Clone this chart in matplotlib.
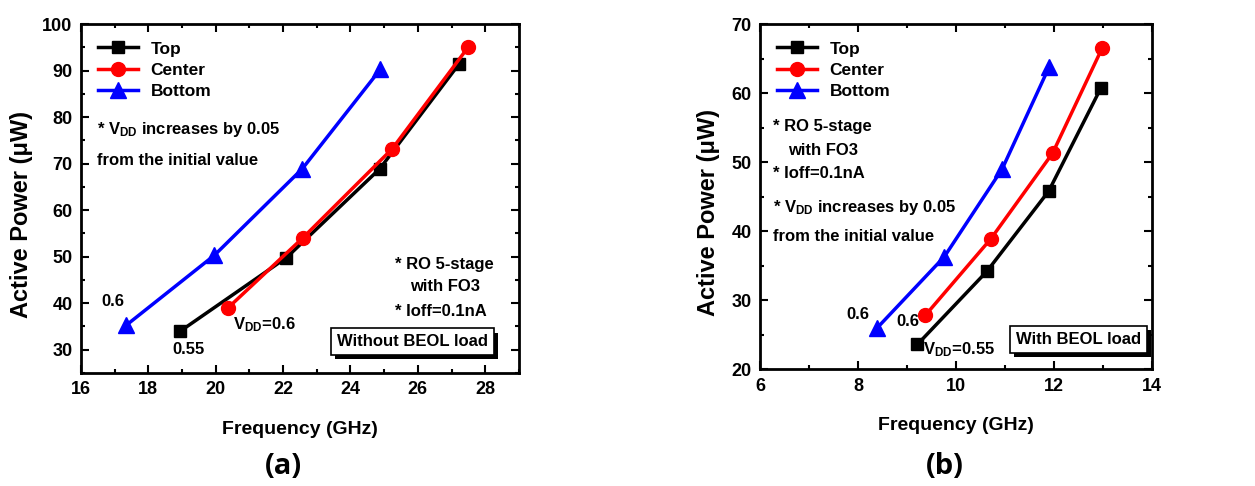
import numpy as np
import matplotlib
matplotlib.use("Agg")
import matplotlib.pyplot as plt
import matplotlib.patheffects as pe
from matplotlib.ticker import MultipleLocator

plt.rcParams['font.family'] = ['Liberation Sans', 'DejaVu Sans']
plt.rcParams['font.weight'] = 'bold'
plt.rcParams['mathtext.fontset'] = 'custom'
plt.rcParams['mathtext.rm'] = 'Liberation Sans:bold'
plt.rcParams['mathtext.bf'] = 'Liberation Sans:bold'

# (a) without BEOL load
freq_top_a = [18.95, 22.1, 24.87, 27.22]
pow_top_a = [34.0, 49.8, 68.9, 91.4]
freq_center_a = [20.35, 22.58, 25.24, 27.49]
pow_center_a = [38.9, 54.0, 73.2, 95.0]
freq_bottom_a = [17.35, 19.96, 22.57, 24.89]
pow_bottom_a = [35.3, 50.3, 68.9, 90.3]

# (b) with BEOL load
freq_top_b = [9.21, 10.63, 11.89, 12.96]
pow_top_b = [23.6, 34.2, 45.8, 60.8]
freq_center_b = [9.37, 10.71, 11.97, 12.98]
pow_center_b = [27.8, 38.9, 51.3, 66.5]
freq_bottom_b = [8.39, 9.76, 10.94, 11.9]
pow_bottom_b = [26.0, 36.3, 49.0, 63.8]

labels = ['Top', 'Center', 'Bottom']
styles = [('black', 's', 9), ('red', 'o', 10), ('blue', '^', 11)]

fig = plt.figure(figsize=(12.55, 4.86), dpi=100)
ax_a = fig.add_axes([0.0645, 0.2325, 0.349, 0.718])
ax_b = fig.add_axes([0.6056, 0.240, 0.3124, 0.7106])


def style_axes(ax, xlim, ylim, xmaj, ymaj):
    ax.set_xlim(*xlim)
    ax.set_ylim(*ylim)
    ax.xaxis.set_major_locator(MultipleLocator(xmaj))
    ax.xaxis.set_minor_locator(MultipleLocator(xmaj / 2))
    ax.yaxis.set_major_locator(MultipleLocator(ymaj))
    ax.yaxis.set_minor_locator(MultipleLocator(ymaj / 2))
    ax.tick_params(which='both', direction='in', top=True, right=True, width=1.5, labelsize=13, pad=6)
    ax.tick_params(which='major', length=6)
    ax.tick_params(which='minor', length=3)
    for s in ax.spines.values():
        s.set_linewidth(2)
    ax.set_xlabel('Frequency (GHz)', fontsize=14, fontweight='bold', labelpad=16)
    ax.set_ylabel('Active Power (μW)', fontsize=17, fontweight='bold')
    for lab in ax.get_xticklabels() + ax.get_yticklabels():
        lab.set_fontweight('bold')


def draw(ax, series):
    for (f, p), lab, (c, m, ms) in zip(series, labels, styles):
        ax.plot(f, p, color=c, marker=m, markersize=ms, linewidth=2.5, label=lab)
    ax.legend(loc='upper left', frameon=False, fontsize=12.5, handlelength=2.3,
              handletextpad=0.7, labelspacing=0.35, borderaxespad=0.6)


def beol_box(ax, x, y, txt):
    t = ax.text(x, y, txt, fontsize=12, va='center', ha='left',
                bbox=dict(boxstyle='square,pad=0.35', fc='white', ec='black', lw=1.2))
    t.get_bbox_patch().set_path_effects([
        pe.SimplePatchShadow(offset=(3, -3), shadow_rgbFace='black', alpha=1.0),
        pe.Normal()])


draw(ax_a, [(freq_top_a, pow_top_a), (freq_center_a, pow_center_a), (freq_bottom_a, pow_bottom_a)])
style_axes(ax_a, (16, 29), (25, 100), 2, 10)
ax_a.yaxis.set_label_coords(-0.11, 0.453)

fs = 12
ax_a.text(16.47, 77.3, r'* $\mathbf{V_{DD}}$ increases by 0.05', fontsize=fs, va='center')
ax_a.text(16.47, 70.7, 'from the initial value', fontsize=fs, va='center')
ax_a.text(16.6, 40.3, '0.6', fontsize=fs, va='center')
ax_a.text(18.7, 30.0, '0.55', fontsize=fs, va='center')
ax_a.text(20.5, 35.5, r'$\mathbf{V_{DD}}$=0.6', fontsize=fs, va='center')
ax_a.text(25.32, 48.4, '* RO 5-stage', fontsize=fs, va='center')
ax_a.text(25.76, 43.5, 'with FO3', fontsize=fs, va='center')
ax_a.text(25.32, 38.3, '* Ioff=0.1nA', fontsize=fs, va='center')
beol_box(ax_a, 23.6, 31.7, 'Without BEOL load')

draw(ax_b, [(freq_top_b, pow_top_b), (freq_center_b, pow_center_b), (freq_bottom_b, pow_bottom_b)])
style_axes(ax_b, (6, 14), (20, 70), 2, 10)
ax_b.yaxis.set_label_coords(-0.102, 0.455)

ax_b.text(6.27, 55.1, '* RO 5-stage', fontsize=fs, va='center')
ax_b.text(6.57, 51.7, 'with FO3', fontsize=fs, va='center')
ax_b.text(6.27, 48.4, '* Ioff=0.1nA', fontsize=fs, va='center')
ax_b.text(6.27, 43.5, r'* $\mathbf{V_{DD}}$ increases by 0.05', fontsize=fs, va='center')
ax_b.text(6.27, 39.3, 'from the initial value', fontsize=fs, va='center')
ax_b.text(7.77, 27.9, '0.6', fontsize=fs, va='center')
ax_b.text(8.79, 27.0, '0.6', fontsize=fs, va='center')
ax_b.text(9.33, 22.9, r'$\mathbf{V_{DD}}$=0.55', fontsize=fs, va='center')
beol_box(ax_b, 11.22, 24.3, 'With BEOL load')

fig.text(0.2255, 0.041, '(a)', fontsize=21, fontweight='bold', ha='center', va='center',
         family=['Open Sans', 'DejaVu Sans'])
fig.text(0.753, 0.041, '(b)', fontsize=21, fontweight='bold', ha='center', va='center',
         family=['Open Sans', 'DejaVu Sans'])

fig.savefig('out.png', dpi=100)
